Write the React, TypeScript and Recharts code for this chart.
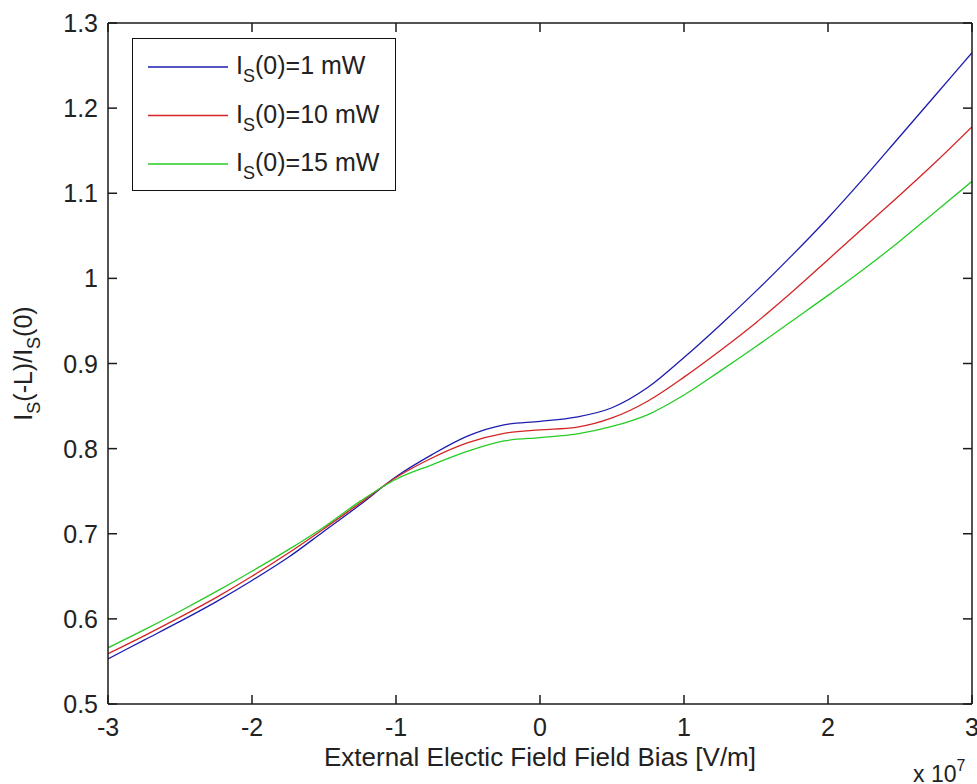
import React from "react";
import { LineChart, Line, XAxis, YAxis, Legend, Label } from "recharts";

// ---- data (x in units of 10^7 V/m) ----
const xValues = [-3, -2.75, -2.5, -2.25, -2, -1.75, -1.5, -1.25, -1, -0.75, -0.5, -0.25, 0, 0.25, 0.5, 0.75, 1, 1.25, 1.5, 1.75, 2, 2.25, 2.5, 2.75, 3];
const ratio1mW = [0.553, 0.575, 0.597, 0.620, 0.645, 0.672, 0.703, 0.734, 0.767, 0.793, 0.815, 0.828, 0.832, 0.837, 0.848, 0.872, 0.907, 0.945, 0.985, 1.027, 1.071, 1.118, 1.167, 1.216, 1.265];
const ratio10mW = [0.559, 0.580, 0.602, 0.625, 0.650, 0.677, 0.706, 0.736, 0.766, 0.789, 0.807, 0.818, 0.822, 0.825, 0.836, 0.856, 0.884, 0.915, 0.948, 0.984, 1.022, 1.060, 1.098, 1.137, 1.178];
const ratio15mW = [0.566, 0.587, 0.609, 0.632, 0.656, 0.681, 0.708, 0.738, 0.764, 0.781, 0.797, 0.809, 0.813, 0.817, 0.826, 0.840, 0.863, 0.891, 0.920, 0.950, 0.980, 1.011, 1.044, 1.079, 1.114];

const xTicks = [-3, -2, -1, 0, 1, 2, 3];
const yTicks = [0.5, 0.6, 0.7, 0.8, 0.9, 1.0, 1.1, 1.2, 1.3];
const legendLabels = ["1 mW", "10 mW", "15 mW"];
const seriesKeys = ["p1", "p10", "p15"];
const seriesColors = ["#1c1cb0", "#d42424", "#26cc26"];

const data = xValues.map((x, i) => ({
  x,
  p1: ratio1mW[i],
  p10: ratio10mW[i],
  p15: ratio15mW[i],
}));

const FONT = "'Liberation Sans', Arial, Helvetica, sans-serif";
const FS = 25;
const TICK_LEN = 9;
const AX = "#1a1a1a";

const fmtY = (v: number) => String(Number(v.toFixed(1)));

const BottomTick = (props: any) => {
  const { x, y, payload } = props;
  return (
    <g>
      <line x1={x} x2={x} y1={y} y2={y - TICK_LEN} stroke={AX} strokeWidth={1.5} />
      <text x={x} y={y + 32} textAnchor="middle" fontFamily={FONT} fontSize={FS} fill="#222">
        {String(payload.value)}
      </text>
    </g>
  );
};

const TopTick = (props: any) => {
  const { x, y } = props;
  return <line x1={x} x2={x} y1={y} y2={y + TICK_LEN} stroke={AX} strokeWidth={1.5} />;
};

const LeftTick = (props: any) => {
  const { x, y, payload } = props;
  return (
    <g>
      <line x1={x} x2={x + TICK_LEN} y1={y} y2={y} stroke={AX} strokeWidth={1.5} />
      <text x={x - 10} y={y} dy="0.36em" textAnchor="end" fontFamily={FONT} fontSize={FS} fill="#222">
        {fmtY(payload.value)}
      </text>
    </g>
  );
};

const RightTick = (props: any) => {
  const { x, y } = props;
  return <line x1={x} x2={x - TICK_LEN} y1={y} y2={y} stroke={AX} strokeWidth={1.5} />;
};

const YLabel = (props: any) => {
  const vb = props.viewBox || { x: 0, y: 0, width: 108, height: 681 };
  const cx = vb.x + 32;
  const cy = vb.y + vb.height / 2;
  return (
    <text
      x={cx}
      y={cy}
      transform={`rotate(-90, ${cx}, ${cy})`}
      textAnchor="middle"
      fontFamily={FONT}
      fontSize={FS}
      fill="#222"
    >
      I<tspan fontSize={18} dy={8}>S</tspan>
      <tspan dy={-8}>(-L)/I</tspan>
      <tspan fontSize={18} dy={8}>S</tspan>
      <tspan dy={-8}>(0)</tspan>
    </text>
  );
};

const XLabel = (props: any) => {
  const vb = props.viewBox || { x: 108, y: 704, width: 864, height: 80 };
  return (
    <g>
      <text x={vb.x + vb.width / 2} y={vb.y + 62} textAnchor="middle" fontFamily={FONT} fontSize={26} fill="#222">
        External Electic Field Field Bias [V/m]
      </text>
      <text x={vb.x + vb.width - 59} y={vb.y + 78} textAnchor="start" fontFamily={FONT} fontSize={23} fill="#222">
        x 10<tspan fontSize={16} dy={-11}>7</tspan>
      </text>
    </g>
  );
};

const LegendBox = () => (
  <div
    style={{
      width: 264,
      height: 153,
      border: "1.5px solid #111",
      background: "#fff",
      boxSizing: "border-box",
    }}
  >
    <svg width={262} height={151} style={{ display: "block" }}>
      {legendLabels.map((lab, i) => {
        const ly = 28 + i * 48.5;
        return (
          <g key={lab}>
            <line x1={15} x2={95} y1={ly} y2={ly} stroke={seriesColors[i]} strokeWidth={1.3} />
            <text x={103} y={ly + 7} fontFamily={FONT} fontSize={FS} fill="#222">
              I<tspan fontSize={18} dy={8}>S</tspan>
              <tspan dy={-8}>(0)={lab}</tspan>
            </text>
          </g>
        );
      })}
    </svg>
  </div>
);

export default function App() {
  return (
    <div style={{ position: "absolute", left: 0, top: 0, width: 977, height: 784, background: "#fff" }}>
      <LineChart width={977} height={784} data={data} margin={{ top: 3, right: 0, bottom: 0, left: 0 }}>
        <XAxis
          xAxisId="bottom"
          dataKey="x"
          type="number"
          domain={[-3, 3]}
          ticks={xTicks}
          allowDataOverflow
          orientation="bottom"
          height={80}
          tickSize={0}
          tickMargin={0}
          tickLine={false}
          axisLine={{ stroke: AX, strokeWidth: 1.5 }}
          tick={<BottomTick />}
          interval={0}
        >
          <Label content={<XLabel />} />
        </XAxis>
        <XAxis
          xAxisId="top"
          dataKey="x"
          type="number"
          domain={[-3, 3]}
          ticks={xTicks}
          allowDataOverflow
          orientation="top"
          height={20}
          tickSize={0}
          tickMargin={0}
          tickLine={false}
          axisLine={{ stroke: AX, strokeWidth: 1.5 }}
          tick={<TopTick />}
          interval={0}
        />
        <YAxis
          yAxisId="left"
          type="number"
          domain={[0.5, 1.3]}
          ticks={yTicks}
          allowDataOverflow
          orientation="left"
          width={108}
          tickSize={0}
          tickMargin={0}
          tickLine={false}
          axisLine={{ stroke: AX, strokeWidth: 1.5 }}
          tick={<LeftTick />}
          interval={0}
        >
          <Label content={<YLabel />} />
        </YAxis>
        <YAxis
          yAxisId="right"
          type="number"
          domain={[0.5, 1.3]}
          ticks={yTicks}
          allowDataOverflow
          orientation="right"
          width={5}
          tickSize={0}
          tickMargin={0}
          tickLine={false}
          axisLine={{ stroke: AX, strokeWidth: 1.5 }}
          tick={<RightTick />}
          interval={0}
        />
        <Legend
          layout="vertical"
          align="center"
          verticalAlign="middle"
          content={<LegendBox />}
          wrapperStyle={{ left: 132, top: 38, width: 264, height: 153 }}
        />
        {seriesKeys.map((k, i) => (
          <Line
            key={k}
            xAxisId="bottom"
            yAxisId="left"
            type="monotone"
            dataKey={k}
            stroke={seriesColors[i]}
            strokeWidth={1.3}
            dot={false}
            activeDot={false}
            isAnimationActive={false}
          />
        ))}
        <Line
          xAxisId="top"
          yAxisId="right"
          type="monotone"
          dataKey="p1"
          stroke="none"
          dot={false}
          activeDot={false}
          legendType="none"
          isAnimationActive={false}
        />
      </LineChart>
    </div>
  );
}
